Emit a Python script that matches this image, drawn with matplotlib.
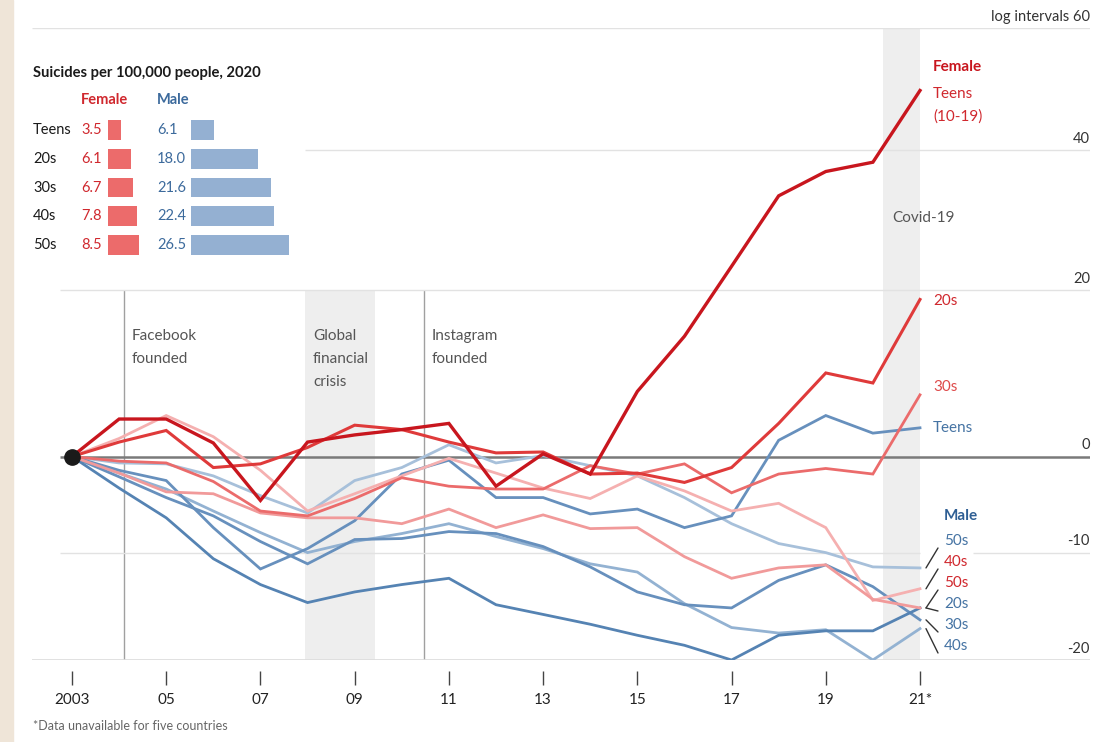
import numpy as np
import matplotlib.pyplot as plt
from matplotlib.patches import Rectangle

plt.rcParams['font.family'] = ['Lato', 'DejaVu Sans']

W, H = 1096, 742

years = np.arange(2003, 2022)

# % change in suicide rate since 2003 (chart uses a log scale)
f_teens = [0, 4.2, 4.2, 1.5, -4.7, 1.6, 2.4, 3.0, 3.7, -3.2, 0.3, -1.9, 7.4, 14.1, 23.2, 33.1, 36.7, 38.1, 49.4]
f_20s = [0, 1.6, 2.9, -1.2, -0.8, 1.0, 3.5, 3.0, 1.6, 0.4, 0.5, -1.9, -1.8, -2.8, -1.2, 3.7, 9.6, 8.4, 18.8]
f_30s = [0, -0.5, -0.7, -2.7, -5.8, -6.3, -4.5, -2.3, -3.2, -3.5, -3.5, -1.0, -1.9, -0.8, -3.9, -1.9, -1.3, -1.9, 7.0]
f_40s = [0, 2.0, 4.6, 2.2, -1.5, -5.8, -4.0, -2.1, -0.2, -1.8, -3.4, -4.5, -2.1, -3.7, -5.8, -5.0, -7.5, -14.6, -13.5]
f_50s = [0, -1.8, -3.8, -4.0, -6.0, -6.5, -6.5, -7.1, -5.6, -7.5, -6.2, -7.6, -7.5, -10.4, -12.5, -11.5, -11.2, -14.5, -15.3]
m_teens = [0, -1.5, -2.6, -7.5, -11.6, -9.6, -6.8, -1.9, -0.4, -4.4, -4.4, -6.1, -5.6, -7.5, -6.3, 1.8, 4.6, 2.6, 3.2]
m_20s = [0, -3.4, -6.5, -10.6, -13.1, -14.8, -13.8, -13.1, -12.5, -15.0, -15.9, -16.8, -17.8, -18.7, -20.0, -17.8, -17.4, -17.4, -15.3]
m_30s = [0, -2.2, -4.4, -6.3, -8.9, -11.1, -8.7, -8.6, -7.9, -8.1, -9.4, -11.4, -13.8, -15.0, -15.3, -12.7, -11.2, -13.3, -16.4]
m_40s = [0, -1.8, -3.5, -5.8, -8.0, -10.0, -8.9, -8.1, -7.1, -8.4, -9.6, -11.1, -11.9, -14.9, -17.1, -17.6, -17.3, -20.0, -17.2]
m_50s = [0, -0.7, -0.8, -2.1, -4.2, -6.0, -2.6, -1.2, 1.3, -0.7, 0.1, -1.0, -2.1, -4.4, -7.1, -9.1, -10.0, -11.4, -11.5]

# inset: suicides per 100,000 people, 2020
age_groups = ['Teens', '20s', '30s', '40s', '50s']
female_2020 = [3.5, 6.1, 6.7, 7.8, 8.5]
male_2020 = [6.1, 18.0, 21.6, 22.4, 26.5]

xtick_years = [2003, 2005, 2007, 2009, 2011, 2013, 2015, 2017, 2019, 2021]
xtick_labels = ['2003', '05', '07', '09', '11', '13', '15', '17', '19', '21*']
ygrid = [60, 40, 20, 0, -10, -20]

RED_D = '#c8161e'
RED = '#df3a3a'
RED_L = '#eb6b6b'
PINK = '#f19a9a'
PINK_L = '#f5b0b0'
BLUE_D = '#5583b3'
BLUE = '#6790bd'
BLUE_L = '#93b2d2'
BLUE_LL = '#a7c0da'
TXT_RED = '#d0282e'
TXT_BLUE = '#4573a3'
GREY = '#555555'


def fwd(v):
    v = np.asarray(v, dtype=float)
    return np.log10(np.clip(1 + v / 100, 1e-6, None))


def inv(u):
    return (10 ** np.asarray(u, dtype=float) - 1) * 100


def fpx(x, y):
    # figure pixel position measured from top-left
    return x / W, 1 - y / H


fig = plt.figure(figsize=(W / 100, H / 100), dpi=100)
fig.patch.set_facecolor('white')
fig.patches.append(Rectangle((0, 0), 13 / W, 1, transform=fig.transFigure,
                             color='#efe5d8', zorder=0))

ax = fig.add_axes([32 / W, 1 - 660 / H, (1090 - 32) / W, (660 - 28) / H])
ax.set_yscale('function', functions=(fwd, inv))
px_per_year = (920 - 72) / 18
x_left = 2003 - (72 - 32) / px_per_year
x_right = 2021 + (1090 - 920) / px_per_year
ax.set_xlim(x_left, x_right)
ax.set_ylim(-20, 60)


def px2yr(px):
    return 2003 + (px - 72) / px_per_year


# shaded periods and events
ax.axvspan(px2yr(883), 2021.0, color='#eeeeee', zorder=0, lw=0)
ax.fill_between([px2yr(305), px2yr(375)], -20, 20, color='#eeeeee', zorder=0, lw=0)
ax.vlines([px2yr(124), px2yr(424)], -20, 20, color='#a0a0a0', lw=1, zorder=1)

# gridlines
ax.hlines(60, x_left, x_right, color='#e2e2e2', lw=1, zorder=1)
ax.hlines(40, px2yr(305), x_right, color='#e2e2e2', lw=1, zorder=1)
ax.hlines(20, px2yr(60), x_right, color='#e2e2e2', lw=1, zorder=1)
ax.hlines(-10, px2yr(60), 2021.0, color='#e2e2e2', lw=1, zorder=1)
ax.hlines(-10, px2yr(973), x_right, color='#e2e2e2', lw=1, zorder=1)
ax.hlines(-20, x_left, x_right, color='#dcdcdc', lw=1.2, zorder=1)
ax.hlines(0, px2yr(60), x_right, color='#7a7a7a', lw=1.8, zorder=2)

for v in ygrid:
    lab = 'log intervals 60' if v == 60 else str(v)
    ax.annotate(lab, xy=(1, v), xycoords=('axes fraction', 'data'),
                xytext=(0, 3), textcoords='offset points',
                ha='right', va='bottom', fontsize=10.5, color='#333333')

# lines
series = [
    (m_50s, BLUE_LL, 2.0), (m_40s, BLUE_L, 2.0), (m_30s, BLUE, 2.0),
    (m_20s, BLUE_D, 2.0), (m_teens, BLUE, 2.0),
    (f_40s, PINK_L, 2.0), (f_50s, PINK, 2.0), (f_30s, RED_L, 2.0),
    (f_20s, RED, 2.2), (f_teens, RED_D, 2.4),
]
for vals, col, lw in series:
    ax.plot(years, vals, color=col, lw=lw, zorder=3, solid_joinstyle='miter')
ax.plot([2003], [0], 'o', color='#1a1a1a', ms=11, zorder=5)

# x axis
for s in ['top', 'right', 'left']:
    ax.spines[s].set_visible(False)
ax.spines['bottom'].set_position(('outward', 8))
ax.spines['bottom'].set_color('none')
ax.set_yticks([])
ax.set_yticks([], minor=True)
ax.set_xticks(xtick_years)
ax.set_xticklabels(xtick_labels)
ax.tick_params(axis='x', length=10, width=1, color='#444444', pad=6,
               labelsize=11, labelcolor='#222222')
ax.set_facecolor('none')

# event annotations
ann = dict(fontsize=11, color=GREY, va='top', linespacing=1.8)
fig.text(*fpx(132, 329), 'Facebook\nfounded', **ann)
fig.text(*fpx(313, 329), 'Global\nfinancial\ncrisis', **ann)
fig.text(*fpx(432, 329), 'Instagram\nfounded', **ann)
fig.text(*fpx(892, 218), 'Covid-19', fontsize=11, color=GREY, va='center')

# line labels
fig.text(*fpx(933, 67), 'Female', fontsize=11, color=RED_D, weight='bold', va='center')
fig.text(*fpx(933, 94), 'Teens', fontsize=11, color=TXT_RED, va='center')
fig.text(*fpx(933, 117), '(10-19)', fontsize=11, color=TXT_RED, va='center')
fig.text(*fpx(933, 301), '20s', fontsize=11, color=TXT_RED, va='center')
fig.text(*fpx(933, 387), '30s', fontsize=11, color='#de4a4a', va='center')
fig.text(*fpx(933, 428), 'Teens', fontsize=11, color=TXT_BLUE, va='center')
fig.text(*fpx(944, 516), 'Male', fontsize=11, color='#2f5f94', weight='bold', va='center')

low_labels = [('50s', TXT_BLUE, 541, m_50s[-1]), ('40s', TXT_RED, 562, f_40s[-1]),
              ('50s', TXT_RED, 583, f_50s[-1]), ('20s', TXT_BLUE, 604, m_20s[-1]),
              ('30s', TXT_BLUE, 625, m_30s[-1]), ('40s', TXT_BLUE, 646, m_40s[-1])]
for lab, col, ly, end in low_labels:
    fig.text(*fpx(944, ly), lab, fontsize=11, color=col, va='center')
    ax.annotate('', xy=(px2yr(926), end), xycoords='data',
                xytext=(938, H - ly - 7), textcoords='figure pixels',
                arrowprops=dict(arrowstyle='-', color='#333333', lw=1,
                                shrinkA=0, shrinkB=0))

# inset bar chart
fig.text(*fpx(33, 73), 'Suicides per 100,000 people, 2020', fontsize=10.6,
         weight='bold', color='#1a1a1a', va='center')
fig.text(*fpx(81, 100), 'Female', fontsize=10.5, weight='bold', color=TXT_RED, va='center')
fig.text(*fpx(157, 100), 'Male', fontsize=10.5, weight='bold', color='#3c6a9c', va='center')

row_h = 28.75
top = 130 - row_h / 2
unit = 3.7
ax_f = fig.add_axes([108 / W, 1 - (top + 5 * row_h) / H, 40 / W, 5 * row_h / H])
ax_m = fig.add_axes([191 / W, 1 - (top + 5 * row_h) / H, 110 / W, 5 * row_h / H])
ax_f.barh(range(5), female_2020, height=0.68, color='#ec6b6b')
ax_m.barh(range(5), male_2020, height=0.68, color='#94b0d2')
ax_f.set_xlim(0, 40 / unit)
ax_m.set_xlim(0, 110 / unit)
for a in (ax_f, ax_m):
    a.set_ylim(4.5, -0.5)
    a.axis('off')
for i, g in enumerate(age_groups):
    y = 130 + i * row_h
    fig.text(*fpx(33, y), g, fontsize=10.5, color='#1a1a1a', va='center')
    fig.text(*fpx(81, y), f'{female_2020[i]:.1f}', fontsize=10.5, color=TXT_RED, va='center')
    fig.text(*fpx(157, y), f'{male_2020[i]:.1f}', fontsize=10.5, color='#3c6a9c', va='center')

fig.text(*fpx(33, 726), '*Data unavailable for five countries', fontsize=9,
         color='#666666', va='center')

fig.savefig('out.png', dpi=100)
